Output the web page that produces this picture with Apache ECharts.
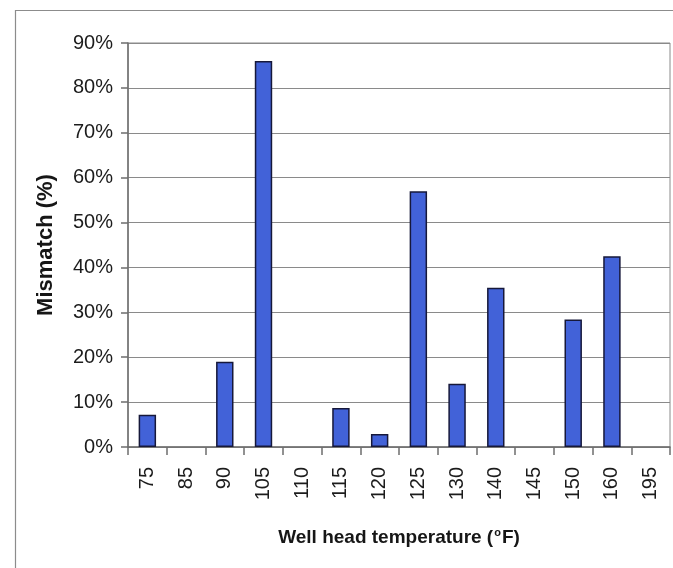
<!DOCTYPE html>
<html>
<head>
<meta charset="utf-8">
<script src="https://cdn.jsdelivr.net/npm/echarts@6/dist/echarts.min.js"></script>
<style>
html,body{margin:0;padding:0;background:#fff;}
#chart{width:673px;height:568px;}
</style>
</head>
<body>
<div id="chart"></div>
<script>
const categories = ['75','85','90','105','110','115','120','125','130','140','145','150','160','195'];
const mismatch = [7.2, 0, 19, 86, 0, 8.7, 2.9, 57, 14.1, 35.5, 0, 28.4, 42.5, 0];
const yTicks = {min: 0, max: 90, interval: 10};
const xTitle = '{t|Well head temperature (}{s|o}{t|F)}';
const yTitle = 'Mismatch (%)';

const chart = echarts.init(document.getElementById('chart'), null, {renderer: 'canvas'});
const font = '"Liberation Sans", Arial, sans-serif';
const barData = mismatch.map(v => v === 0 ? {value: v, itemStyle: {borderWidth: 0, opacity: 0}} : v);
chart.setOption({
  backgroundColor: '#ffffff',
  animation: false,
  graphic: [{
    type: 'rect',
    left: 13, top: 8,
    shape: {width: 700, height: 620},
    style: {fill: 'none', stroke: '#8c8c8c', lineWidth: 1.2},
    silent: true, z: -1
  }],
  grid: {
    left: 128, right: 3, top: 43, bottom: 121,
    show: true, borderColor: '#8a8a8a', borderWidth: 1, backgroundColor: 'transparent'
  },
  xAxis: {
    type: 'category',
    data: categories,
    boundaryGap: true,
    axisLine: {lineStyle: {color: '#6e6e6e', width: 1.5}},
    axisTick: {show: true, alignWithLabel: false, length: 8, inside: false, lineStyle: {color: '#6e6e6e', width: 1.5}},
    axisLabel: {rotate: 90, margin: 20, fontSize: 20, color: '#1c1c1c', fontFamily: font, interval: 0},
    name: xTitle,
    nameLocation: 'middle',
    nameGap: 80,
    nameTextStyle: {
      rich: {
        t: {fontSize: 19, fontWeight: 'bold', color: '#161616', fontFamily: font},
        s: {fontSize: 11, fontWeight: 'bold', color: '#161616', fontFamily: font, verticalAlign: 'top', padding: [0, 1, 10, 1]}
      }
    }
  },
  yAxis: {
    type: 'value',
    min: yTicks.min, max: yTicks.max, interval: yTicks.interval,
    axisLine: {show: true, lineStyle: {color: '#6e6e6e', width: 1.5}},
    axisTick: {show: true, length: 7, lineStyle: {color: '#6e6e6e', width: 1.5}},
    axisLabel: {formatter: '{value}%', margin: 15, fontSize: 20, color: '#1c1c1c', fontFamily: font},
    splitLine: {show: true, lineStyle: {color: '#8a8a8a', width: 1.2}},
    name: yTitle,
    nameLocation: 'middle',
    nameGap: 71,
    nameRotate: 90,
    nameTextStyle: {fontSize: 22, fontWeight: 'bold', color: '#161616', fontFamily: font}
  },
  series: [{
    type: 'bar',
    data: barData,
    barWidth: '45%',
    itemStyle: {color: '#4262d8', borderColor: '#16183a', borderWidth: 1.5}
  }]
});
</script>
</body>
</html>
